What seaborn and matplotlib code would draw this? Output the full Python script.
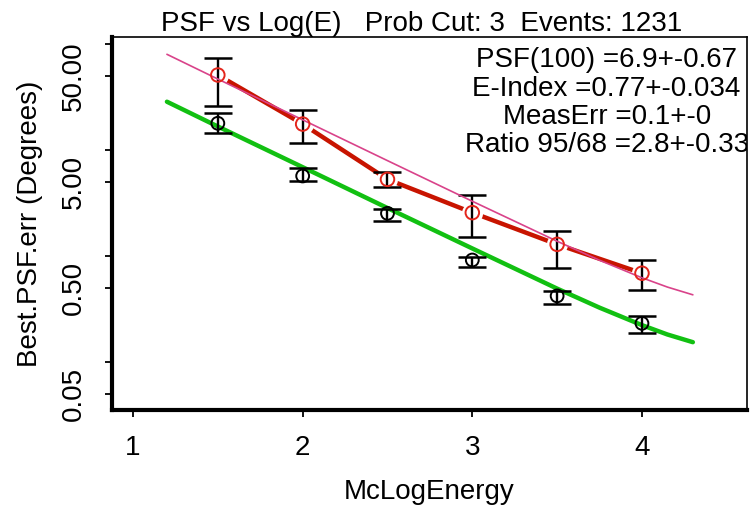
import matplotlib
matplotlib.use("Agg")
import matplotlib.pyplot as plt
import seaborn as sns

# ---- data ----
energy = [1.5, 2.0, 2.5, 3.0, 3.5, 4.0]
psf95 = [51.1, 17.6, 5.30, 2.57, 1.29, 0.689]
psf95_hi = [73.5, 23.9, 6.25, 3.77, 1.74, 0.918]
psf95_lo = [26.2, 11.6, 4.52, 1.52, 0.767, 0.479]
psf68 = [17.9, 5.70, 2.53, 0.918, 0.421, 0.232]
psf68_hi = [22.5, 6.73, 2.78, 0.986, 0.472, 0.272]
psf68_lo = [14.4, 5.14, 2.16, 0.794, 0.353, 0.187]

fit_x = [1.2, 1.5, 2.0, 2.5, 3.0, 3.5, 3.75, 4.0, 4.15, 4.3]
fit68 = [28.6, 16.7, 6.9, 2.84, 1.18, 0.493, 0.326, 0.223, 0.182, 0.154]
fit95 = [80.1, 46.8, 19.3, 7.95, 3.29, 1.38, 0.913, 0.624, 0.510, 0.431]

x_ticks = [1, 2, 3, 4]
y_ticks = [0.05, 0.1, 0.5, 1, 5, 10, 50, 100]
y_ticklabels = ["0.05", "", "0.50", "", "5.00", "", "50.00", ""]

title = "PSF vs Log(E)   Prob Cut: 3  Events: 1231"
stats_lines = ["PSF(100) =6.9+-0.67", "E-Index =0.77+-0.034",
               "MeasErr =0.1+-0", "Ratio 95/68 =2.8+-0.33"]
xlabel = "McLogEnergy"
ylabel = "Best.PSF.err (Degrees)"

# ---- style ----
sns.set_style("white")
plt.rcParams['font.family'] = ['Liberation Sans', 'DejaVu Sans']
for k in ("text.color", "axes.labelcolor", "xtick.color", "ytick.color", "axes.edgecolor"):
    plt.rcParams[k] = "black"
FS = 20

GREEN = "#12c012"
DARKRED = "#c81400"
RED = "#e4261c"
PINK = "#d9438a"

fig = plt.figure(figsize=(7.53, 5.13), dpi=100)
ax = fig.add_axes([0.1487, 0.2008, 0.8433, 0.7271])
ax.set_yscale("log")

sns.lineplot(x=fit_x, y=fit68, ax=ax, color=GREEN, lw=3.2, sort=False, zorder=3)
sns.lineplot(x=energy, y=psf95, ax=ax, color=DARKRED, lw=3.2, sort=False, zorder=2)
# white halo giving the gap in the red line near each circle
sns.scatterplot(x=energy, y=psf95, ax=ax, s=230, color="white", edgecolor="white",
                linewidth=0, zorder=2.5, legend=False)

for yv, lo, hi in ((psf95, psf95_lo, psf95_hi), (psf68, psf68_lo, psf68_hi)):
    err = [[v - l for v, l in zip(yv, lo)], [h - v for v, h in zip(yv, hi)]]
    ax.errorbar(energy, yv, yerr=err, fmt="none", ecolor="black", elinewidth=1.7,
                capsize=10, capthick=1.8, zorder=4)

sns.lineplot(x=fit_x, y=fit95, ax=ax, color=PINK, lw=1.2, sort=False, zorder=5)

sns.scatterplot(x=energy, y=psf95, ax=ax, s=95, facecolor="none", edgecolor=RED,
                linewidth=1.4, zorder=6, legend=False)
sns.scatterplot(x=energy, y=psf68, ax=ax, s=85, facecolor="none", edgecolor="black",
                linewidth=1.4, zorder=6, legend=False)

ax.set_xlim(0.876, 4.619)
ax.set_ylim(0.0353, 116.7)
ax.set_xticks(x_ticks)
ax.set_xticklabels([str(t) for t in x_ticks])
ax.set_yticks(y_ticks)
ax.set_yticklabels(y_ticklabels, rotation=90, va="center")
ax.minorticks_off()
ax.tick_params(axis="both", which="major", direction="out", length=4.8, width=1.3,
               color="black", labelcolor="black", labelsize=FS, pad=13,
               left=True, bottom=True)

for side in ("left", "bottom"):
    ax.spines[side].set_linewidth(3)
for side in ("top", "right"):
    ax.spines[side].set_linewidth(1.2)
for s in ax.spines.values():
    s.set_color("black")

ax.set_xlabel(xlabel, fontsize=FS, labelpad=13, color="black")
ax.set_ylabel(ylabel, fontsize=FS, labelpad=13, color="black")

fig.text(0.5604, 0.9396, title, ha="center", va="baseline", fontsize=FS, color="black")

ys = [0.9196, 0.8418, 0.7668, 0.6917]
for line, yy in zip(stats_lines, ys):
    ax.text(0.779, yy, line, transform=ax.transAxes, ha="center", va="baseline",
            fontsize=FS, clip_on=True, zorder=7, color="black")

fig.savefig("out.png", dpi=100)
